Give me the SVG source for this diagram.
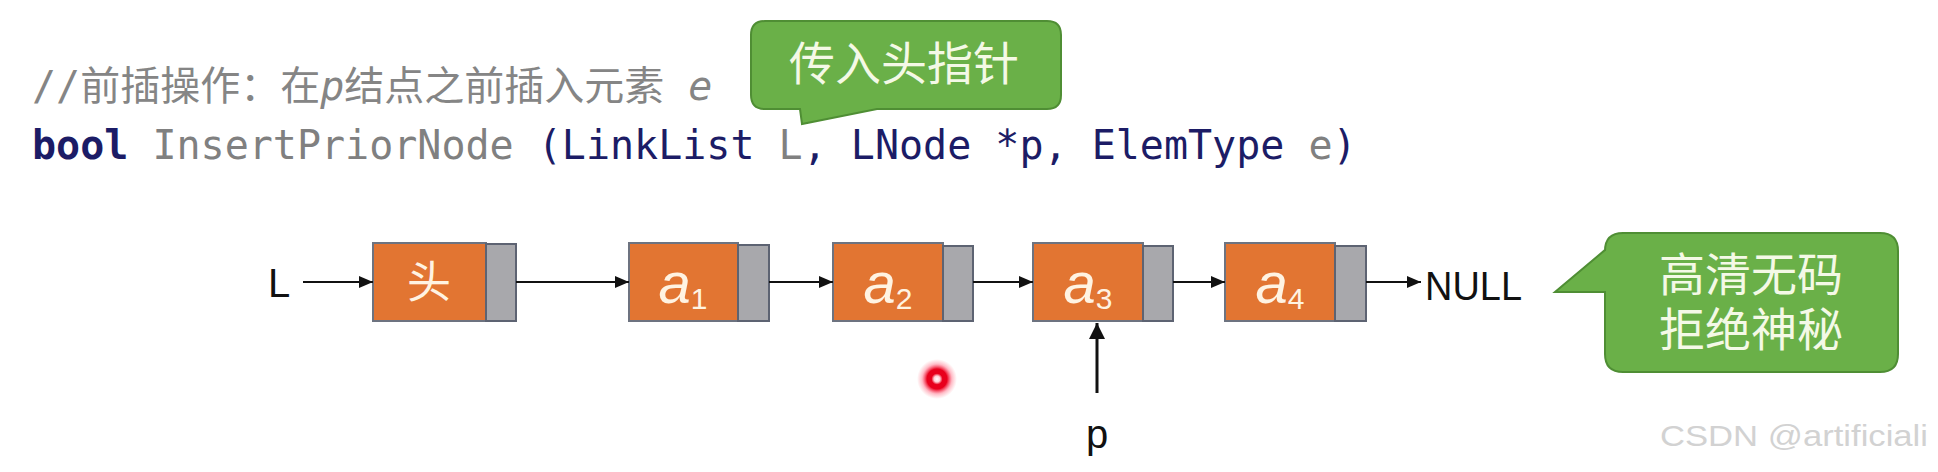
<svg xmlns="http://www.w3.org/2000/svg" width="1938" height="472" viewBox="0 0 1938 472">
<style>
  .code{font-family:"DejaVu Sans Mono","Noto Sans CJK SC",monospace;font-size:40px;white-space:pre}
  .cmt{fill:#858585}
  .kw{fill:#1c1c66;font-weight:bold}
  .nv{fill:#1c1c66}
  .g{fill:#808080}
  .it{font-style:italic}
  .data{fill:#E27532;stroke:#6d7380;stroke-width:2}
  .ptr{fill:#A8A8AC;stroke:#5d6372;stroke-width:2}
  .lbl{font-family:"Liberation Sans",Arial,sans-serif;font-size:40px;fill:#111}
  .ntext{font-family:"Liberation Sans",Arial,sans-serif;fill:#FFF3E2}
  .cjkw{font-family:"Noto Sans CJK SC",sans-serif;fill:#FFF3E2}
  .bubble{fill:#6AB048;stroke:#4F8E34;stroke-width:2}
  .btext{font-family:"Noto Sans CJK SC",sans-serif;font-size:46px;fill:#F4F9E6;text-anchor:middle}
  .conn{stroke:#111;stroke-width:2;fill:none}
  .thick{stroke-width:3}
</style>
<defs>
  <marker id="arr" markerUnits="userSpaceOnUse" markerWidth="15" markerHeight="12" refX="14" refY="6" orient="auto">
    <path d="M0,0 L14,6 L0,12 Z" fill="#111"/>
  </marker>
  <marker id="arrBig" markerUnits="userSpaceOnUse" markerWidth="17" markerHeight="16" refX="16" refY="8" orient="auto">
    <path d="M0,0 L16,8 L0,16 Z" fill="#111"/>
  </marker>
  <radialGradient id="dot">
    <stop offset="0" stop-color="#ffffff"/>
    <stop offset="0.15" stop-color="#ffd0d6"/>
    <stop offset="0.28" stop-color="#e8001c"/>
    <stop offset="0.5" stop-color="#e8001c"/>
    <stop offset="0.75" stop-color="#ff4060" stop-opacity="0.35"/>
    <stop offset="1" stop-color="#ff6070" stop-opacity="0"/>
  </radialGradient>
</defs>
<rect width="1938" height="472" fill="#ffffff"/>

<g id="code">
  <text x="32" y="100" class="code cmt">//前插操作：在<tspan class="it">p</tspan>结点之前插入元素 <tspan class="it">e</tspan></text>
  <text x="32" y="159" class="code nv"><tspan class="kw">bool</tspan> <tspan class="g">InsertPriorNode</tspan> (LinkList<tspan class="g"> L</tspan>, LNode *p, ElemType<tspan class="g"> e</tspan>)</text>
</g>

<g id="bubble-head">
  <path class="bubble" d="M765,21 H1047 Q1061,21 1061,35 V95 Q1061,109 1047,109 H877 L802,124 L800,109 H765 Q751,109 751,95 V35 Q751,21 765,21 Z"/>
  <text x="904" y="80" class="btext">传入头指针</text>
</g>

<g id="L">
  <text x="268" y="297" class="lbl" font-size="37">L</text>
</g>

<g id="node-head">
  <rect class="data" x="373" y="243" width="113" height="78"/>
  <rect class="ptr" x="486" y="244" width="30" height="77"/>
  <text x="429" y="298" class="cjkw" font-size="44" text-anchor="middle">头</text>
</g>
<g id="node-a1">
  <rect class="data" x="629" y="243" width="109" height="78"/>
  <rect class="ptr" x="738" y="245" width="31" height="76"/>
  <text x="683" y="303" class="ntext" text-anchor="middle"><tspan font-size="58" font-style="italic">a</tspan><tspan font-size="30" dy="6">1</tspan></text>
</g>
<g id="node-a2">
  <rect class="data" x="833" y="243" width="110" height="78"/>
  <rect class="ptr" x="943" y="246" width="30" height="75"/>
  <text x="888" y="303" class="ntext" text-anchor="middle"><tspan font-size="58" font-style="italic">a</tspan><tspan font-size="30" dy="6">2</tspan></text>
</g>
<g id="node-a3">
  <rect class="data" x="1033" y="243" width="110" height="78"/>
  <rect class="ptr" x="1143" y="246" width="30" height="75"/>
  <text x="1088" y="303" class="ntext" text-anchor="middle"><tspan font-size="58" font-style="italic">a</tspan><tspan font-size="30" dy="6">3</tspan></text>
</g>
<g id="node-a4">
  <rect class="data" x="1225" y="243" width="110" height="78"/>
  <rect class="ptr" x="1335" y="246" width="31" height="75"/>
  <text x="1280" y="303" class="ntext" text-anchor="middle"><tspan font-size="58" font-style="italic">a</tspan><tspan font-size="30" dy="6">4</tspan></text>
</g>

<g id="NULL">
  <text x="1425" y="300" class="lbl" textLength="97" lengthAdjust="spacingAndGlyphs">NULL</text>
</g>

<g id="p">
  <text x="1097" y="448" class="lbl" text-anchor="middle">p</text>
</g>

<g id="connectors">
  <line class="conn" x1="303" y1="282" x2="373" y2="282" marker-end="url(#arr)"/>
  <line class="conn" x1="516" y1="282" x2="629" y2="282" marker-end="url(#arr)"/>
  <line class="conn" x1="769" y1="282" x2="833" y2="282" marker-end="url(#arr)"/>
  <line class="conn" x1="973" y1="282" x2="1033" y2="282" marker-end="url(#arr)"/>
  <line class="conn" x1="1173" y1="282" x2="1225" y2="282" marker-end="url(#arr)"/>
  <line class="conn" x1="1366" y1="282" x2="1421" y2="282" marker-end="url(#arr)"/>
  <line class="conn thick" x1="1097" y1="393" x2="1097" y2="323" marker-end="url(#arrBig)"/>
</g>

<g id="bubble-hd">
  <path class="bubble" d="M1623,233 H1880 Q1898,233 1898,251 V354 Q1898,372 1880,372 H1623 Q1605,372 1605,354 V292 H1555 L1605,250 V251 Q1605,233 1623,233 Z"/>
  <text class="btext"><tspan x="1751" y="291">高清无码</tspan><tspan x="1751" y="346">拒绝神秘</tspan></text>
</g>

<g id="laser">
  <circle cx="937" cy="379" r="20" fill="url(#dot)"/>
</g>

<g id="watermark">
  <text x="1660" y="446" font-family="Liberation Sans, Arial, sans-serif" font-size="30" fill="#d2d2d2" textLength="268" lengthAdjust="spacingAndGlyphs">CSDN @artificiali</text>
</g>
</svg>
